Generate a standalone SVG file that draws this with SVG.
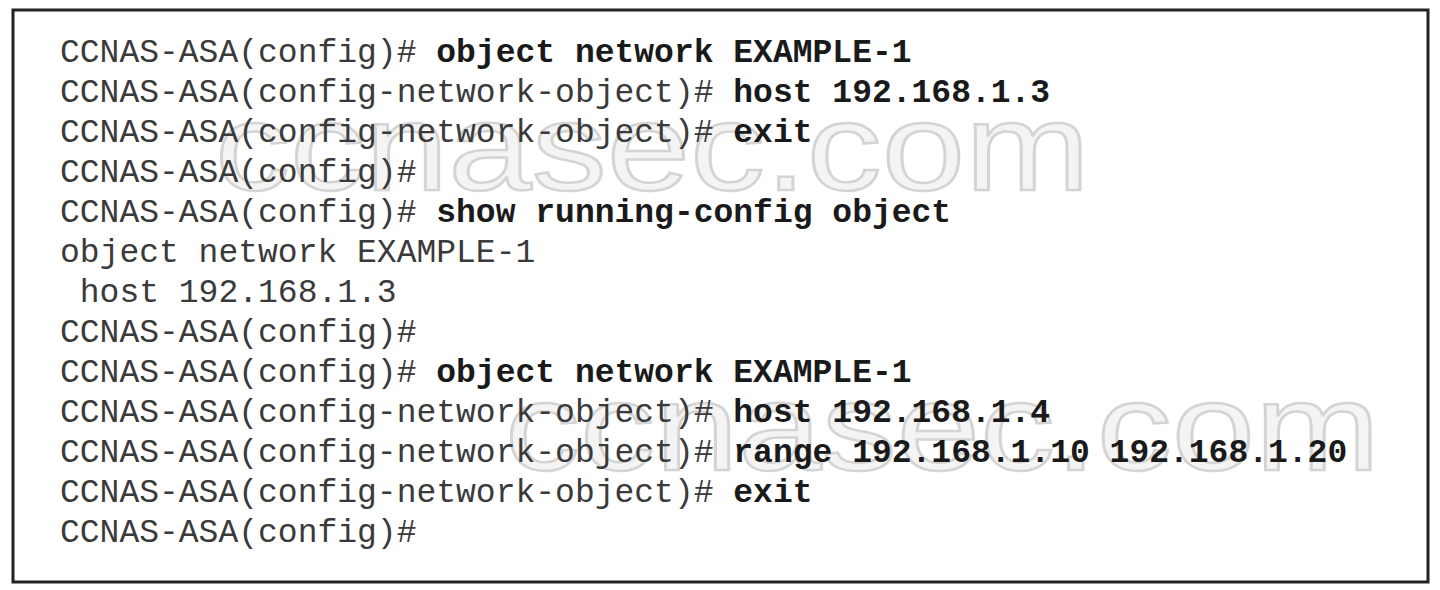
<svg xmlns="http://www.w3.org/2000/svg" width="1440" height="590" viewBox="0 0 1440 590">
<style>
.t{font-family:"Liberation Mono","Courier New",monospace;font-size:33px;fill:#3a3a3a;}
.b{font-weight:bold;fill:#1a1a1a;}
.wm{font-family:"Liberation Sans",Arial,sans-serif;font-size:125px;fill:#f4f4f4;stroke:#d4d4d4;stroke-width:2.5;}
</style>
<rect width="1440" height="590" fill="#ffffff"/>
<rect x="13" y="10" width="1415" height="572" fill="#ffffff" stroke="#222" stroke-width="3"/>
<g id="watermarks">
<text class="wm" x="215" y="190" textLength="875" lengthAdjust="spacingAndGlyphs">ccnasec.com</text>
<text class="wm" x="505" y="470" textLength="875" lengthAdjust="spacingAndGlyphs">ccnasec.com</text>
</g>
<g id="terminal">
<text class="t" x="60" y="62">CCNAS-ASA(config)# <tspan class="b">object network EXAMPLE-1</tspan></text>
<text class="t" x="60" y="102">CCNAS-ASA(config-network-object)# <tspan class="b">host 192.168.1.3</tspan></text>
<text class="t" x="60" y="142">CCNAS-ASA(config-network-object)# <tspan class="b">exit</tspan></text>
<text class="t" x="60" y="182">CCNAS-ASA(config)#</text>
<text class="t" x="60" y="222">CCNAS-ASA(config)# <tspan class="b">show running-config object</tspan></text>
<text class="t" x="60" y="262">object network EXAMPLE-1</text>
<text class="t" x="60" y="302" xml:space="preserve"> host 192.168.1.3</text>
<text class="t" x="60" y="342">CCNAS-ASA(config)#</text>
<text class="t" x="60" y="382">CCNAS-ASA(config)# <tspan class="b">object network EXAMPLE-1</tspan></text>
<text class="t" x="60" y="422">CCNAS-ASA(config-network-object)# <tspan class="b">host 192.168.1.4</tspan></text>
<text class="t" x="60" y="462">CCNAS-ASA(config-network-object)# <tspan class="b">range 192.168.1.10 192.168.1.20</tspan></text>
<text class="t" x="60" y="502">CCNAS-ASA(config-network-object)# <tspan class="b">exit</tspan></text>
<text class="t" x="60" y="542">CCNAS-ASA(config)#</text>
</g>
</svg>
